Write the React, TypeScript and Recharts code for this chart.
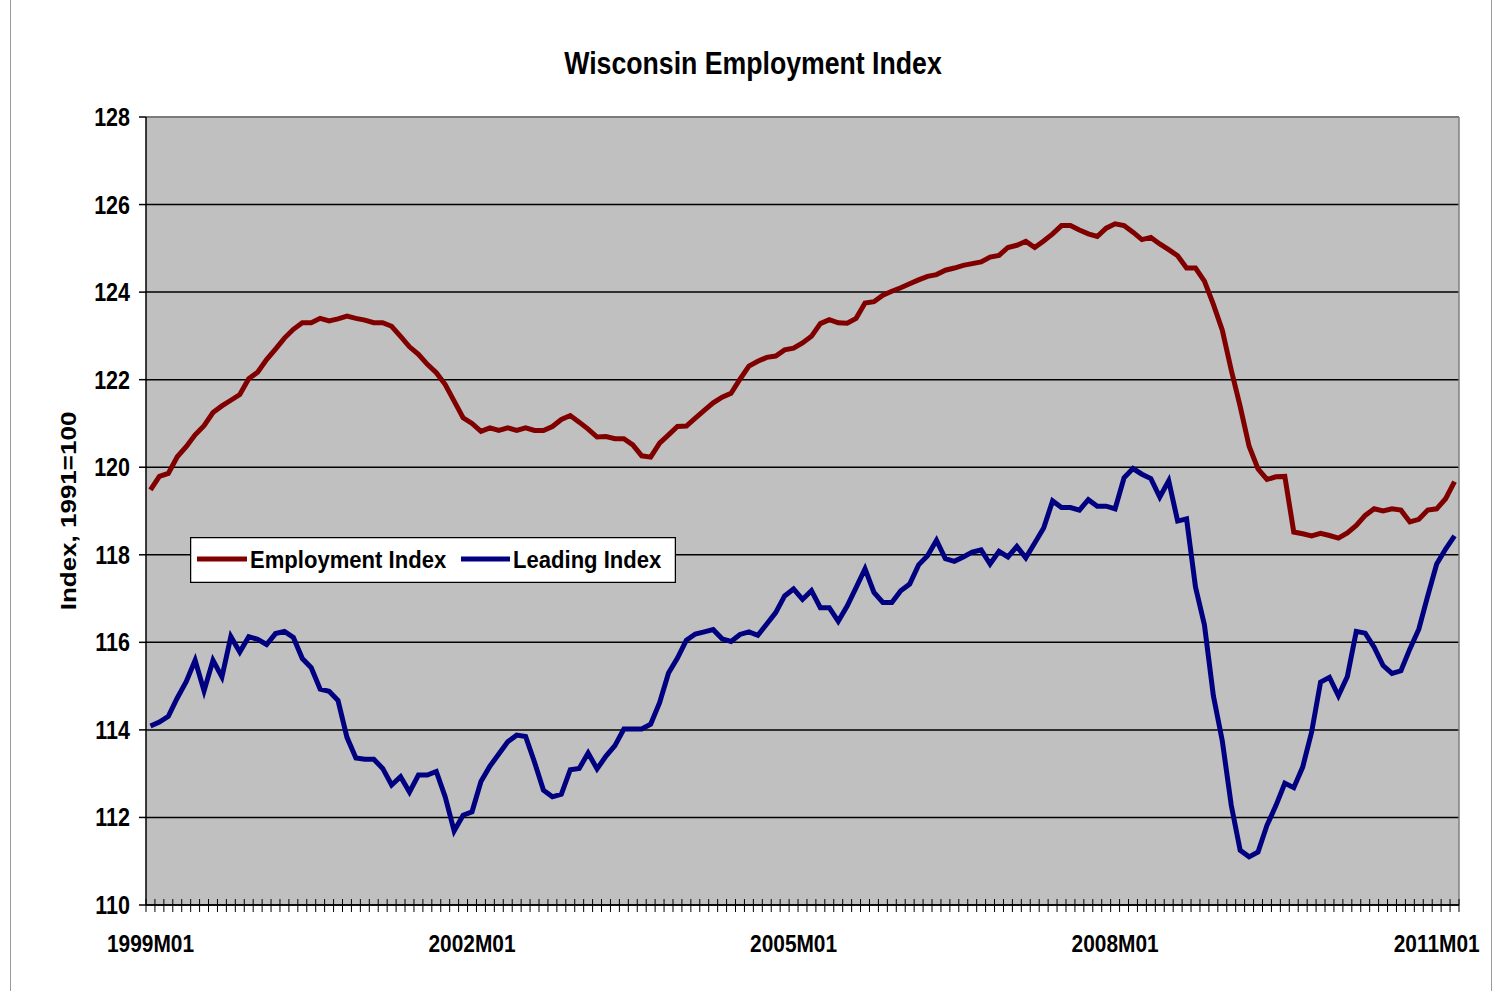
import { CartesianGrid, Legend, Line, LineChart, ReferenceLine, XAxis, YAxis } from "recharts";

const START_YEAR = 1999;
const MONTH_COUNT = 147; // 1999M01 .. 2011M03

const MONTHS: string[] = [];
for (let i = 0; i < MONTH_COUNT; i++) {
  const y = START_YEAR + Math.floor(i / 12);
  const m = (i % 12) + 1;
  MONTHS.push(`${y}M${m < 10 ? "0" + m : m}`);
}

const X_LABELS = ["1999M01", "2002M01", "2005M01", "2008M01", "2011M01"];
const Y_TICKS = [110, 112, 114, 116, 118, 120, 122, 124, 126, 128];

const EMPLOYMENT = [
  119.48, 119.79, 119.86, 120.24, 120.47, 120.74, 120.95, 121.25, 121.4, 121.53, 121.66, 122.02,
  122.17, 122.46, 122.7, 122.95, 123.15, 123.3, 123.3, 123.4, 123.34, 123.39, 123.45, 123.4,
  123.36, 123.3, 123.3, 123.22, 122.99, 122.75, 122.58, 122.35, 122.16, 121.89, 121.51, 121.13,
  121.0, 120.82, 120.9, 120.84, 120.9, 120.84, 120.9, 120.84, 120.84, 120.93, 121.09, 121.18,
  121.03, 120.87, 120.69, 120.7, 120.65, 120.65, 120.51, 120.26, 120.23, 120.55, 120.74, 120.93,
  120.94, 121.12, 121.3, 121.47, 121.6, 121.69, 122.01, 122.31, 122.42, 122.51, 122.54, 122.68,
  122.72, 122.84, 122.99, 123.28, 123.37, 123.3, 123.29, 123.4, 123.75, 123.78, 123.93, 124.02,
  124.1, 124.19, 124.28, 124.36, 124.4, 124.5, 124.55, 124.61, 124.65, 124.69, 124.8, 124.84,
  125.02, 125.07, 125.16, 125.02, 125.17, 125.33, 125.52, 125.52, 125.42, 125.33, 125.27, 125.46,
  125.56, 125.52, 125.37, 125.2, 125.25, 125.1, 124.97, 124.83, 124.55, 124.55, 124.25, 123.72,
  123.13, 122.22, 121.39, 120.48, 119.96, 119.72, 119.78, 119.79, 118.52, 118.48, 118.43, 118.49,
  118.44, 118.38, 118.5, 118.67, 118.9, 119.05, 119.0, 119.05, 119.02, 118.75, 118.81, 119.02,
  119.05, 119.28, 119.67,
];

const LEADING = [
  114.09, 114.18, 114.31, 114.73, 115.1, 115.59, 114.89, 115.59, 115.21, 116.13, 115.78, 116.13,
  116.07, 115.95, 116.2, 116.25, 116.11, 115.63, 115.42, 114.93, 114.88, 114.67, 113.83, 113.36,
  113.33, 113.33, 113.12, 112.74, 112.93, 112.58, 112.97, 112.97, 113.05, 112.47, 111.69, 112.05,
  112.13, 112.82, 113.17, 113.45, 113.73, 113.88, 113.85, 113.26, 112.62, 112.47, 112.53, 113.09,
  113.12, 113.47, 113.11, 113.4, 113.64, 114.02, 114.02, 114.02, 114.13, 114.62, 115.3, 115.64,
  116.05, 116.19, 116.24, 116.29, 116.08, 116.02, 116.18, 116.24, 116.16, 116.42, 116.68, 117.06,
  117.22, 116.98, 117.18, 116.79, 116.79, 116.48, 116.83, 117.25, 117.68, 117.14, 116.91, 116.91,
  117.18, 117.33, 117.77, 117.98, 118.33, 117.91, 117.85, 117.95, 118.06, 118.11, 117.79, 118.08,
  117.95, 118.19, 117.93, 118.27, 118.61, 119.23, 119.08, 119.08, 119.02, 119.26, 119.11, 119.11,
  119.05, 119.76, 119.97, 119.84, 119.74, 119.32, 119.69, 118.77, 118.82, 117.26, 116.4, 114.78,
  113.75, 112.28, 111.25, 111.1, 111.21, 111.82, 112.27, 112.78, 112.68, 113.15, 113.95, 115.09,
  115.2, 114.78, 115.22, 116.25, 116.21, 115.89, 115.47, 115.29, 115.35, 115.85, 116.3, 117.06,
  117.79, 118.13, 118.43,
];

const SERIES = [
  { key: "employment", name: "Employment Index", color: "#800000" },
  { key: "leading", name: "Leading Index", color: "#000080" },
];

const data = MONTHS.map((month, i) => ({
  month,
  employment: EMPLOYMENT[i],
  leading: LEADING[i],
}));

const FONT = '"Liberation Sans", Arial, sans-serif';

// the original chart text is a bit condensed, so squeeze it horizontally
function NarrowText({ x, y, size, sx, anchor = "start", children }: any) {
  return (
    <text
      transform={`translate(${x} ${y}) scale(${sx} 1)`}
      textAnchor={anchor}
      fontFamily={FONT}
      fontWeight="bold"
      fontSize={size}
      fill="#000"
    >
      {children}
    </text>
  );
}

function XTick(props: any) {
  const { x, y, payload, index, width } = props;
  const band = width / MONTH_COUNT;
  const left = x - band / 2;
  return (
    <g>
      <line x1={left} x2={left} y1={y - 6} y2={y + 7} stroke="#000" strokeWidth={1} />
      {index === MONTH_COUNT - 1 && (
        <line x1={x + band / 2} x2={x + band / 2} y1={y - 6} y2={y + 7} stroke="#000" strokeWidth={1} />
      )}
      {X_LABELS.includes(payload.value) && (
        <NarrowText x={x} y={y + 47} size={24} sx={0.87} anchor="middle">
          {payload.value}
        </NarrowText>
      )}
    </g>
  );
}

function YTick(props: any) {
  const { x, y, payload } = props;
  return (
    <NarrowText x={x} y={y + 9} size={25} sx={0.86} anchor="end">
      {payload.value}
    </NarrowText>
  );
}

function YLabel(props: any) {
  const { viewBox } = props;
  const cx = viewBox.x + 10;
  const cy = viewBox.y + viewBox.height / 2;
  return (
    <text
      transform={`translate(${cx} ${cy}) rotate(-90) scale(1 0.86)`}
      textAnchor="middle"
      fontFamily={FONT}
      fontWeight="bold"
      fontSize={26}
      fill="#000"
    >
      Index, 1991=100
    </text>
  );
}

function LegendBox() {
  return (
    <svg width={486} height={46} style={{ display: "block" }}>
      <rect x={0.5} y={0.5} width={485} height={45} fill="#fff" stroke="#000" strokeWidth={1.5} />
      <line x1={7} x2={57} y1={22} y2={22} stroke={SERIES[0].color} strokeWidth={5} />
      <NarrowText x={60} y={31} size={24} sx={0.92}>
        {SERIES[0].name}
      </NarrowText>
      <line x1={271} x2={320} y1={22} y2={22} stroke={SERIES[1].color} strokeWidth={5} />
      <NarrowText x={323} y={31} size={24} sx={0.92}>
        {SERIES[1].name}
      </NarrowText>
    </svg>
  );
}

export default function App() {
  return (
    <div style={{ position: "absolute", left: 0, top: 0, width: 1501, height: 991, background: "#fff", overflow: "hidden" }}>
      <div
        style={{
          position: "absolute",
          left: 10,
          top: -2,
          width: 1480,
          height: 1010,
          border: "1px solid #9a9a9a",
        }}
      />
      <div
        style={{
          position: "absolute",
          left: 0,
          width: 1506,
          top: 46,
          textAlign: "center",
          fontFamily: FONT,
          fontWeight: "bold",
          fontSize: 31,
          color: "#000",
          transform: "scaleX(0.86)",
          transformOrigin: "753px 0",
        }}
      >
        Wisconsin Employment Index
      </div>
      <div style={{ position: "absolute", left: 0, top: 0 }}>
        <LineChart width={1501} height={991} data={data} margin={{ top: 117, right: 42, bottom: 36, left: 66 }}>
          <CartesianGrid fill="#c0c0c0" stroke="#000" strokeWidth={1.5} vertical={false} />
          <CartesianGrid
            stroke="#808080"
            strokeWidth={1.5}
            horizontalCoordinatesGenerator={({ offset }: any) => [offset.top]}
            verticalCoordinatesGenerator={({ offset }: any) => [offset.left + offset.width]}
          />
          <XAxis
            dataKey="month"
            scale="band"
            interval={0}
            tickSize={0}
            tickMargin={0}
            tickLine={false}
            axisLine={{ stroke: "#000", strokeWidth: 1.5 }}
            height={50}
            tick={<XTick />}
          />
          <YAxis
            domain={[110, 128]}
            ticks={Y_TICKS}
            interval={0}
            width={80}
            tickSize={7}
            tickMargin={9}
            tickLine={{ stroke: "#000", strokeWidth: 1.5 }}
            axisLine={{ stroke: "#000", strokeWidth: 1.5 }}
            tick={<YTick />}
            label={{ value: "Index, 1991=100", content: <YLabel /> }}
          />
          <ReferenceLine y={128} stroke="#808080" strokeWidth={1.5} />
          {SERIES.map((s) => (
            <Line
              key={s.key}
              type="linear"
              dataKey={s.key}
              name={s.name}
              stroke={s.color}
              strokeWidth={5}
              dot={false}
              isAnimationActive={false}
            />
          ))}
          <Legend
            layout="vertical"
            align="center"
            verticalAlign="middle"
            content={() => <LegendBox />}
            wrapperStyle={{ left: 190, top: 537, width: 486, height: 46 }}
          />
        </LineChart>
      </div>
    </div>
  );
}
